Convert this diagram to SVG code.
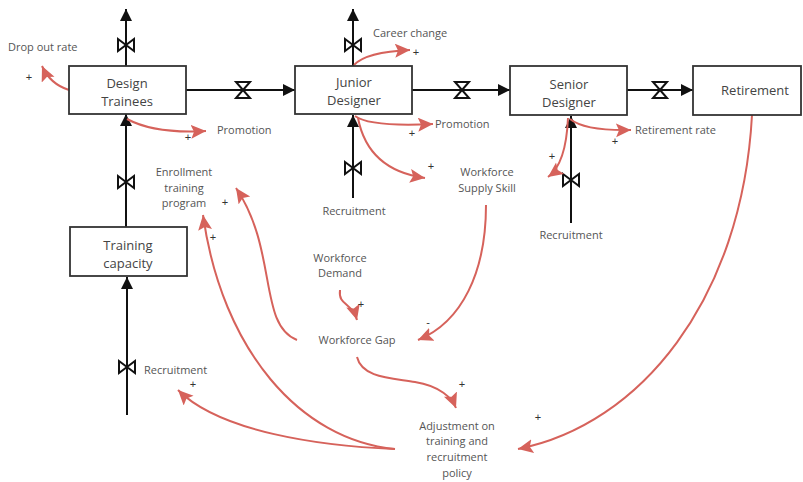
<svg xmlns="http://www.w3.org/2000/svg" xmlns:xlink="http://www.w3.org/1999/xlink" width="803" height="482" viewBox="0 0 803 482">
<style>
.box{fill:#fff;stroke:#333;stroke-width:1.8}
.nl{font-family:"Open Sans","Liberation Sans",sans-serif;font-size:13px;fill:#444;text-anchor:middle}
.lb{font-family:"Open Sans","Liberation Sans",sans-serif;font-size:11px;fill:#555}
.c{text-anchor:middle}
.pm{font-family:"Liberation Sans",sans-serif;font-size:11px;fill:#333;text-anchor:middle}
.flow{fill:none;stroke:#111;stroke-width:2;marker-end:url(#ah)}
.link{fill:none;stroke:#d6625b;stroke-width:2;marker-end:url(#rh)}
.valve{fill:#fff;stroke:#111;stroke-width:2;stroke-linejoin:miter}
</style>
<defs>
<marker id="ah" markerUnits="userSpaceOnUse" markerWidth="14" markerHeight="12" refX="12" refY="6" orient="auto"><path d="M0,0 L12,6 L0,12 z" fill="#111"/></marker>
<marker id="rh" markerUnits="userSpaceOnUse" markerWidth="17" markerHeight="15" refX="15" refY="7" orient="auto"><path d="M0,0 L15,7 L0,14 L3,7 z" fill="#d6625b"/></marker>
<path id="vv" class="valve" d="M-8,-6 L8,6 L8,-6 L-8,6 Z"/>
<path id="hv" class="valve" d="M-7,-8 L7,-8 L-7,8 L7,8 Z"/>
</defs>
<rect width="803" height="482" fill="#fff"/>
<g id="connectors">
<path class="flow" d="M126,66 V9"/>
<path class="flow" d="M353,66 V9"/>
<path class="flow" d="M186,90 H295"/>
<path class="flow" d="M412,90 H510"/>
<path class="flow" d="M627,90 H693"/>
<path class="flow" d="M126,227 V114"/>
<path class="flow" d="M127,415 V277"/>
<path class="flow" d="M353,198 V115"/>
<path class="flow" d="M571,223 V116"/>
<use href="#vv" x="126" y="45"/>
<use href="#vv" x="353" y="45"/>
<use href="#hv" x="243" y="90"/>
<use href="#hv" x="462" y="90"/>
<use href="#hv" x="660" y="90"/>
<use href="#vv" x="126" y="182"/>
<use href="#vv" x="127" y="367"/>
<use href="#vv" x="353" y="168"/>
<use href="#vv" x="571" y="180"/>
<path class="link" d="M69,90 Q50,84 42,66"/>
<path class="link" d="M127,119 Q155,134 206,131"/>
<path class="link" d="M354,65 Q366,52 410,50"/>
<path class="link" d="M355,116 Q370,127 433,124"/>
<path class="link" d="M358,118 Q368,170 425,178"/>
<path class="link" d="M570,119 Q585,131 631,130"/>
<path class="link" d="M568,118 Q566,164 548,177"/>
<path class="link" d="M486,205 C486,272 462,322 418,340"/>
<path class="link" d="M340,290 C338,306 352,302 357,320"/>
<path class="link" d="M297,340 C258,325 278,250 236,188"/>
<path class="link" d="M357,357 C362,378 392,378 415,382 C440,386 452,398 456,408"/>
<path class="link" d="M752,115 C742,300 640,425 518,449"/>
<path class="link" d="M395,449 C300,440 222,350 203,215"/>
<path class="link" d="M395,449 C320,446 220,432 178,390"/>
</g>
<g id="design-trainees"><rect class="box" x="69" y="66" width="117" height="48"/><text class="nl" x="127" y="88">Design</text><text class="nl" x="127" y="106">Trainees</text></g>
<g id="junior-designer"><rect class="box" x="295" y="66" width="117" height="48"/><text class="nl" x="354" y="87">Junior</text><text class="nl" x="354" y="105">Designer</text></g>
<g id="senior-designer"><rect class="box" x="510" y="66" width="117" height="49"/><text class="nl" x="569" y="89">Senior</text><text class="nl" x="569" y="107">Designer</text></g>
<g id="retirement"><rect class="box" x="693" y="66" width="108" height="49"/><text class="nl" x="755" y="95">Retirement</text></g>
<g id="training-capacity"><rect class="box" x="70" y="227" width="117" height="49"/><text class="nl" x="128" y="250">Training</text><text class="nl" x="128" y="268">capacity</text></g>
<g id="drop-out-rate"><text class="lb" x="8" y="51">Drop out rate</text></g>
<g id="promotion-1"><text class="lb" x="217" y="134">Promotion</text></g>
<g id="career-change"><text class="lb" x="373" y="37">Career change</text></g>
<g id="promotion-2"><text class="lb" x="435" y="128">Promotion</text></g>
<g id="retirement-rate"><text class="lb" x="635" y="134">Retirement rate</text></g>
<g id="workforce-supply-skill"><text class="lb c" x="487" y="176">Workforce</text><text class="lb c" x="487" y="192">Supply Skill</text></g>
<g id="recruitment-junior"><text class="lb c" x="354" y="215">Recruitment</text></g>
<g id="recruitment-senior"><text class="lb c" x="571" y="239">Recruitment</text></g>
<g id="enrollment"><text class="lb c" x="184" y="176">Enrollment</text><text class="lb c" x="184" y="192">training</text><text class="lb c" x="184" y="207">program</text></g>
<g id="workforce-demand"><text class="lb c" x="340" y="262">Workforce</text><text class="lb c" x="340" y="277">Demand</text></g>
<g id="workforce-gap"><text class="lb c" x="357" y="344">Workforce Gap</text></g>
<g id="recruitment-left"><text class="lb" x="144" y="374">Recruitment</text></g>
<g id="adjustment"><text class="lb c" x="457" y="430">Adjustment on</text><text class="lb c" x="457" y="445">training and</text><text class="lb c" x="457" y="461">recruitment</text><text class="lb c" x="457" y="477">policy</text></g>
<g id="polarities">
<text class="pm" x="29" y="81">+</text>
<text class="pm" x="188" y="141">+</text>
<text class="pm" x="416" y="56">+</text>
<text class="pm" x="412" y="137">+</text>
<text class="pm" x="431" y="170">+</text>
<text class="pm" x="615" y="145">+</text>
<text class="pm" x="552" y="160">+</text>
<text class="pm" x="361" y="308">+</text>
<text class="pm" x="428" y="326">-</text>
<text class="pm" x="225" y="206">+</text>
<text class="pm" x="213" y="241">+</text>
<text class="pm" x="193" y="388">+</text>
<text class="pm" x="462" y="388">+</text>
<text class="pm" x="538" y="421">+</text>
</g>
</svg>
